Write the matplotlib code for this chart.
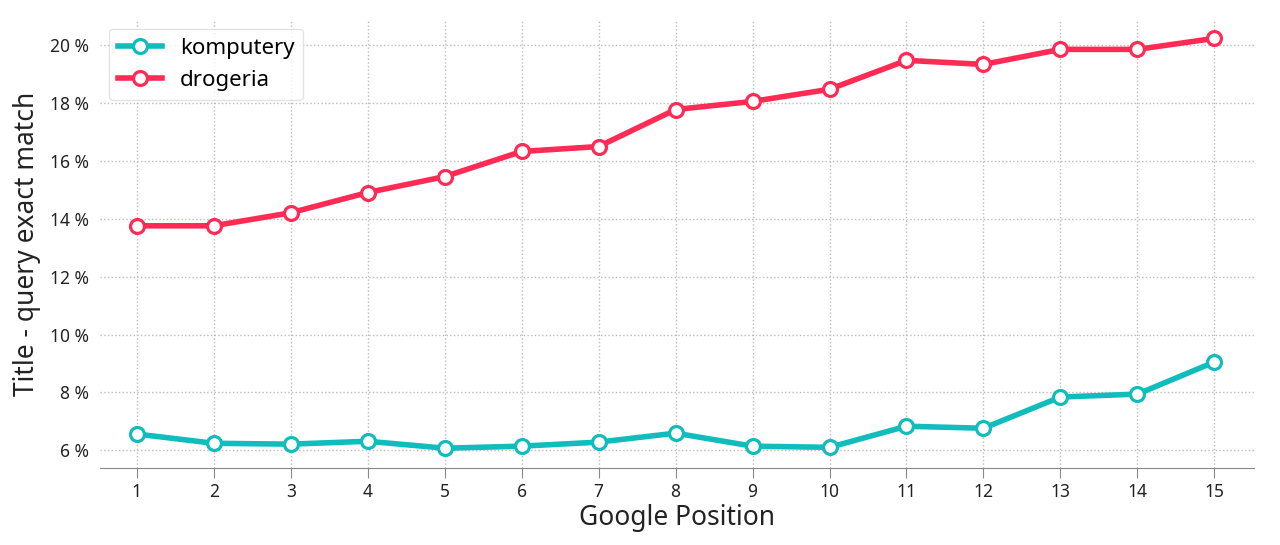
import matplotlib
matplotlib.use("Agg")
import matplotlib.pyplot as plt
from matplotlib.ticker import FuncFormatter

plt.rcParams["font.family"] = ["Noto Sans", "DejaVu Sans"]

positions = list(range(1, 16))
komputery = [6.56, 6.24, 6.21, 6.31, 6.07, 6.14, 6.28, 6.59, 6.14, 6.10,
             6.83, 6.76, 7.84, 7.94, 9.05]
drogeria = [13.76, 13.76, 14.21, 14.91, 15.46, 16.33, 16.50, 17.78, 18.06, 18.48,
            19.48, 19.34, 19.86, 19.86, 20.24]

TEAL = "#10bcbc"
RED = "#ff2b55"

fig = plt.figure(figsize=(12.8, 5.45), dpi=100)
ax = fig.add_axes([0.078, 0.141, 0.902, 0.822])

for vals, color, label in [(komputery, TEAL, "komputery"), (drogeria, RED, "drogeria")]:
    ax.plot(positions, vals, color=color, lw=4, marker="o", ms=10,
            mfc="white", mec=color, mew=2.3, label=label, zorder=3)

ax.set_xlim(0.52, 15.52)
ax.set_ylim(5.38, 20.87)
ax.set_xticks(positions)
ax.set_yticks(range(6, 21, 2))
ax.yaxis.set_major_formatter(FuncFormatter(lambda v, p: f"{int(v)} %"))

ax.grid(True, linestyle=":", color="#bbbbbb", lw=1)
for s in ["top", "right", "left"]:
    ax.spines[s].set_visible(False)
ax.spines["bottom"].set_color("#888888")
ax.tick_params(axis="x", colors="#888888", labelcolor="#222222", length=7, labelsize=12.5)
ax.tick_params(axis="y", length=0, labelcolor="#222222", labelsize=12.5, pad=8)

ax.set_xlabel("Google Position", fontsize=19, color="#222222", labelpad=2)
ax.set_ylabel("Title - query exact match", fontsize=19, color="#222222", labelpad=6)

ax.legend(loc="upper left", fontsize=16, frameon=True, edgecolor="#dddddd",
          handlelength=2.0, borderaxespad=0.4, bbox_to_anchor=(0.0, 1.0))

fig.savefig("out.png", dpi=100)
